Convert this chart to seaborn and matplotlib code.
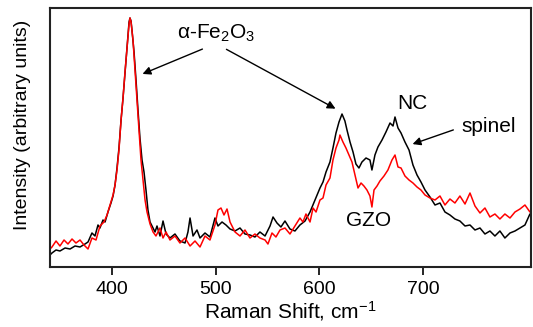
import seaborn as sns
import matplotlib.pyplot as plt
import pandas as pd

# spectrum NC (black)
nc_shift = [340.6, 342.5, 346.4, 350.2, 355.1, 359.9, 364.7, 369.5, 374.3, 377.2, 381.0, 383.9,
            386.8, 388.7, 391.6, 393.6, 396.4, 399.3, 401.3, 403.2, 405.1, 407.0, 409.0, 410.9,
            412.8, 414.7, 415.7, 416.7, 417.6, 418.6, 419.5, 421.5, 423.4, 425.3, 427.2, 429.2,
            431.1, 433.0, 434.9, 436.9, 439.8, 441.7, 443.6, 446.5, 449.4, 452.3, 456.1, 460.9,
            465.7, 470.6, 473.4, 475.4, 478.3, 482.1, 485.0, 489.8, 494.6, 499.4, 502.3, 506.2,
            510.0, 513.9, 518.7, 523.5, 528.3, 533.1, 537.9, 542.7, 547.6, 552.4, 555.3, 559.1,
            562.9, 566.8, 571.6, 576.4, 581.2, 586.1, 590.9, 595.7, 600.5, 603.4, 606.3, 610.1,
            613.0, 615.9, 618.8, 621.7, 624.5, 626.5, 629.4, 632.3, 635.1, 638.0, 640.9, 644.8,
            648.6, 650.5, 653.4, 656.3, 660.2, 664.0, 667.9, 670.8, 672.7, 675.6, 678.5, 682.3,
            686.2, 690.0, 693.9, 697.7, 701.6, 706.4, 711.2, 716.0, 720.8, 725.6, 730.4, 735.2,
            740.1, 744.9, 749.7, 754.5, 759.3, 764.1, 768.9, 773.7, 778.5, 783.4, 788.2, 793.0,
            797.8, 802.6]
nc_int = [12, 14, 17, 16, 19, 18, 21, 20, 23, 25, 34, 31,
          42, 39, 47, 45, 55, 64, 71, 82, 99, 119, 147, 169,
          194, 219, 233, 245, 249, 246, 237, 215, 187, 157, 129, 107,
          95, 77, 57, 45, 39, 35, 41, 31, 46, 33, 29, 33,
          26, 24, 35, 49, 31, 37, 29, 34, 30, 49, 41, 45,
          42, 38, 36, 39, 33, 32, 30, 35, 31, 41, 50, 44,
          40, 46, 38, 36, 42, 46, 55, 67, 79, 85, 95, 105,
          119, 134, 145, 153, 146, 137, 125, 115, 103, 99, 105, 109,
          107, 97, 112, 120, 127, 135, 144, 141, 150, 139, 134, 125,
          117, 102, 92, 85, 77, 70, 62, 64, 55, 52, 48, 46,
          41, 42, 37, 39, 33, 36, 31, 36, 29, 34, 36, 39,
          42, 53]

# spectrum GZO (red)
gzo_shift = [340.6, 342.5, 346.4, 350.2, 354.1, 357.9, 361.8, 365.6, 369.5, 373.3, 377.2, 381.0,
             384.9, 388.7, 392.6, 395.5, 398.4, 401.3, 403.2, 405.1, 407.0, 409.0, 410.9, 412.8,
             414.7, 416.7, 417.6, 418.6, 420.5, 422.4, 424.4, 426.3, 428.2, 430.1, 432.1, 434.0,
             436.9, 439.8, 442.6, 446.5, 449.4, 452.3, 456.1, 460.9, 465.7, 470.6, 475.4, 480.2,
             485.0, 489.8, 494.6, 499.4, 502.3, 505.2, 508.1, 511.0, 513.9, 518.7, 523.5, 528.3,
             533.1, 537.9, 542.7, 547.6, 550.4, 554.3, 558.1, 562.0, 566.8, 571.6, 576.4, 581.2,
             584.1, 587.0, 590.9, 593.8, 596.7, 600.5, 603.4, 606.3, 610.1, 613.0, 615.9, 618.8,
             619.7, 622.6, 625.5, 628.4, 631.3, 634.2, 637.1, 640.0, 642.8, 645.7, 648.6, 650.5,
             652.5, 655.4, 658.2, 662.1, 665.9, 669.8, 672.7, 675.6, 678.5, 682.3, 686.2, 690.0,
             693.9, 697.7, 701.6, 706.4, 711.2, 716.0, 720.8, 725.6, 730.4, 735.2, 740.1, 744.9,
             749.7, 754.5, 759.3, 764.1, 768.9, 773.7, 778.5, 783.4, 788.2, 793.0, 797.8, 802.6]
gzo_int = [18, 20, 26, 21, 27, 23, 28, 24, 27, 22, 18, 29,
           27, 41, 45, 52, 62, 72, 82, 97, 117, 147, 169, 195,
           219, 243, 249, 245, 227, 197, 167, 137, 107, 87, 67, 55,
           43, 35, 31, 39, 29, 35, 27, 31, 24, 29, 21, 26,
           20, 31, 27, 42, 57, 59, 52, 58, 45, 35, 31, 37,
           29, 33, 29, 27, 23, 34, 30, 37, 39, 33, 41, 49,
           45, 53, 45, 59, 55, 67, 69, 82, 89, 107, 119, 127,
           132, 125, 119, 112, 105, 92, 79, 84, 81, 77, 71, 60,
           77, 81, 86, 91, 97, 107, 112, 100, 99, 91, 87, 84,
           80, 77, 72, 69, 67, 71, 62, 68, 64, 71, 63, 74,
           61, 54, 59, 50, 53, 48, 53, 49, 55, 58, 62, 55]

nc = pd.DataFrame({"shift": nc_shift, "intensity": nc_int})
gzo = pd.DataFrame({"shift": gzo_shift, "intensity": gzo_int})

sns.set_style("white")
plt.rcParams["font.family"] = ["Liberation Sans", "DejaVu Sans"]
plt.rcParams["mathtext.fontset"] = "custom"
plt.rcParams["mathtext.rm"] = "Liberation Sans"
plt.rcParams["mathtext.default"] = "regular"
plt.rcParams["text.color"] = "black"
plt.rcParams["axes.labelcolor"] = "black"
plt.rcParams["xtick.color"] = "black"

fig = plt.figure(figsize=(5.33, 3.27), dpi=100)
ax = fig.add_axes([0.0938, 0.1835, 0.9024, 0.792])

sns.lineplot(data=nc, x="shift", y="intensity", color="black", linewidth=1.1, ax=ax)
sns.lineplot(data=gzo, x="shift", y="intensity", color="#ff0000", linewidth=1.1, ax=ax)

ax.set_xlim(340.6, 803.6)
ax.set_ylim(0, 259)
ax.set_xticks([400, 500, 600, 700])
ax.set_yticks([])
ax.tick_params(axis="x", direction="out", length=6, width=1.2, pad=4, labelsize=14, bottom=True)
for sp in ax.spines.values():
    sp.set_linewidth(1.5)
    sp.set_color("#222222")

ax.set_xlabel("Raman Shift, cm$^{-1}$", fontsize=15, labelpad=1)
ax.set_ylabel("Intensity (arbitrary units)", fontsize=14)
ax.yaxis.set_label_coords(-0.04, 0.55)

arrow = dict(arrowstyle="-|>", color="black", lw=1.0, mutation_scale=12)
ax.text(500.4, 234, "α-Fe$_2$O$_3$", fontsize=15, ha="center", va="center")
ax.annotate("", xy=(427.2, 192), xytext=(489.8, 219), arrowprops=arrow)
ax.annotate("", xy=(617.8, 157), xytext=(508.1, 219), arrowprops=arrow)
ax.text(689.0, 164, "NC", fontsize=15, ha="center", va="center")
ax.text(763.2, 141, "spinel", fontsize=15, ha="center", va="center")
ax.annotate("", xy=(687.1, 122), xytext=(731.4, 138), arrowprops=arrow)
ax.text(647.7, 46, "GZO", fontsize=15, ha="center", va="center")

fig.savefig("out.png", dpi=100)
